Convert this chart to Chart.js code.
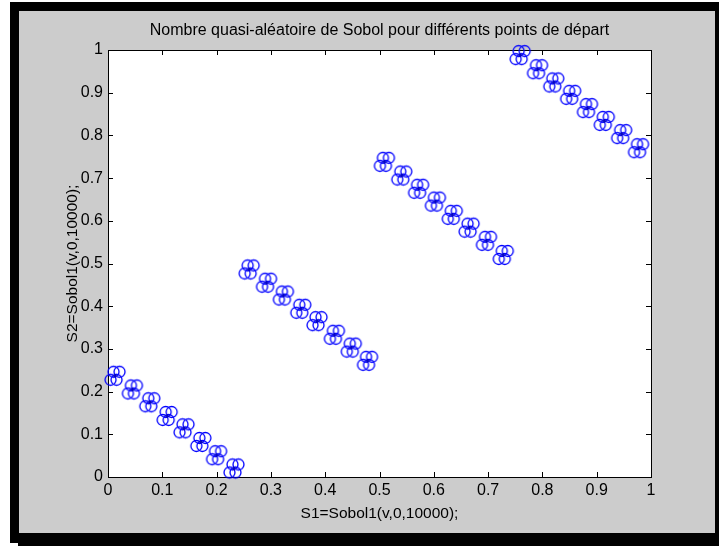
<!DOCTYPE html>
<html>
<head>
<meta charset="utf-8">
<script src="https://cdn.jsdelivr.net/npm/chart.js@4"></script>
<style>
  html, body { margin: 0; padding: 0; background: #fff; }
</style>
</head>
<body>
<canvas id="sobol" width="719" height="546"></canvas>
<script>
// centres of the point clusters (S1, S2)
const clusterX = [
  0.013, 0.045, 0.077, 0.109, 0.140, 0.171, 0.200, 0.232,
  0.260, 0.292, 0.323, 0.355, 0.385, 0.417, 0.448, 0.478,
  0.509, 0.541, 0.572, 0.603, 0.634, 0.665, 0.697, 0.728,
  0.759, 0.791, 0.821, 0.852, 0.883, 0.914, 0.946, 0.977
];
const clusterY = [
  0.237, 0.205, 0.175, 0.143, 0.114, 0.082, 0.051, 0.020,
  0.486, 0.455, 0.425, 0.394, 0.365, 0.333, 0.303, 0.272,
  0.738, 0.706, 0.675, 0.645, 0.614, 0.584, 0.553, 0.520,
  0.988, 0.955, 0.924, 0.895, 0.864, 0.834, 0.803, 0.770
];
const tickLabels = ['0', '0.1', '0.2', '0.3', '0.4', '0.5', '0.6', '0.7', '0.8', '0.9', '1'];

const titleText = 'Nombre quasi-aléatoire de Sobol pour différents points de départ';
const xTitle = 'S1=Sobol1(v,0,10000);';
const yTitle = 'S2=Sobol1(v,0,10000);';

const FONT = "'Liberation Sans', Arial, sans-serif";

// marker: four overlapping blue 'o' (the sequences from the different start points)
function makeMarker() {
  const c = document.createElement('canvas');
  c.width = 26;
  c.height = 24;
  const g = c.getContext('2d');
  g.strokeStyle = '#0000ff';
  g.lineWidth = 1.3;
  const cx = 13, cy = 12;
  [[-1.5, -4], [4.5, -4], [-4.5, 4], [1.5, 4]].forEach(([dx, dy]) => {
    g.beginPath();
    g.arc(cx + dx, cy + dy, 5.5, 0, Math.PI * 2);
    g.stroke();
  });
  g.beginPath();
  g.moveTo(cx - 2, cy); g.lineTo(cx + 2, cy);
  g.moveTo(cx, cy - 2); g.lineTo(cx, cy + 2);
  g.lineWidth = 1;
  g.strokeStyle = '#0000aa';
  g.stroke();
  return c;
}

// grey figure window with its black shadow, white axes
const framePlugin = {
  id: 'frame',
  beforeDraw(chart) {
    const ctx = chart.ctx;
    const a = chart.chartArea;
    ctx.save();
    ctx.fillStyle = '#fff';
    ctx.fillRect(0, 0, chart.width, chart.height);
    ctx.fillStyle = '#000';
    ctx.fillRect(10, 2, 709, 541);
    ctx.fillRect(18, 533, 701, 13);
    ctx.fillStyle = '#cccccc';
    ctx.fillRect(19, 11, 696, 522);
    ctx.fillStyle = '#fff';
    ctx.fillRect(a.left, a.top, a.right - a.left, a.bottom - a.top);
    ctx.restore();
  },
  beforeDatasetsDraw(chart) {
    // box and inward ticks on all four sides
    const ctx = chart.ctx;
    const a = chart.chartArea;
    const len = 5;
    ctx.save();
    ctx.strokeStyle = '#000';
    ctx.lineWidth = 1;
    ctx.beginPath();
    chart.scales.x.ticks.forEach(t => {
      const px = Math.round(chart.scales.x.getPixelForValue(t.value)) + 0.5;
      ctx.moveTo(px, a.bottom); ctx.lineTo(px, a.bottom - len);
      ctx.moveTo(px, a.top); ctx.lineTo(px, a.top + len);
    });
    chart.scales.y.ticks.forEach(t => {
      const py = Math.round(chart.scales.y.getPixelForValue(t.value)) + 0.5;
      ctx.moveTo(a.left, py); ctx.lineTo(a.left + len, py);
      ctx.moveTo(a.right, py); ctx.lineTo(a.right - len, py);
    });
    ctx.stroke();
    ctx.strokeRect(Math.round(a.left) + 0.5, Math.round(a.top) + 0.5,
      Math.round(a.right - a.left), Math.round(a.bottom - a.top));
    ctx.restore();
  }
};

const points = clusterX.map((x, i) => ({ x: x, y: clusterY[i] }));

new Chart(document.getElementById('sobol'), {
  type: 'scatter',
  data: {
    datasets: [{
      label: 'Sobol',
      data: points,
      pointStyle: makeMarker(),
      pointRadius: 10,
      clip: false
    }]
  },
  options: {
    responsive: false,
    animation: false,
    events: [],
    layout: { padding: { left: 0, top: 0, right: 68, bottom: 0 } },
    plugins: {
      legend: { display: false },
      tooltip: { enabled: false },
      title: {
        display: true,
        fullSize: false,
        text: titleText,
        color: '#000',
        font: { family: FONT, size: 16, weight: 'normal' },
        padding: { top: 21.4, bottom: 9.4 }
      }
    },
    scales: {
      x: {
        type: 'linear',
        min: 0,
        max: 1,
        grid: { display: false, drawTicks: false },
        border: { display: false },
        ticks: {
          stepSize: 0.1,
          padding: 4,
          maxRotation: 0,
          color: '#000',
          font: { family: FONT, size: 16 },
          callback: (v, i) => tickLabels[i]
        },
        title: {
          display: true,
          text: xTitle,
          color: '#000',
          font: { family: FONT, size: 15.5 },
          padding: { top: 0, bottom: 22.7 }
        },
        afterFit: scale => { scale.height = 69; }
      },
      y: {
        type: 'linear',
        min: 0,
        max: 1,
        grid: { display: false, drawTicks: false },
        border: { display: false },
        ticks: {
          stepSize: 0.1,
          padding: 5,
          color: '#000',
          font: { family: FONT, size: 16 },
          callback: (v, i) => tickLabels[i]
        },
        title: {
          display: true,
          text: yTitle,
          color: '#000',
          font: { family: FONT, size: 15.5 },
          padding: { top: 63.7, bottom: 0 }
        },
        afterFit: scale => { scale.width = 108; }
      }
    }
  },
  plugins: [framePlugin]
});
</script>
</body>
</html>
